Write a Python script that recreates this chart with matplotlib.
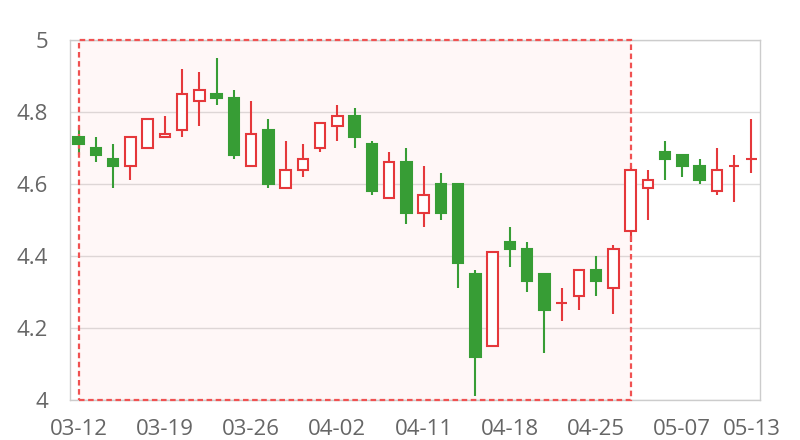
import matplotlib
matplotlib.use('Agg')
import matplotlib.pyplot as plt
from matplotlib.patches import Rectangle

plt.rcParams['font.family'] = ['Open Sans', 'DejaVu Sans']

# 日期与K线数据 (开, 收, 高, 低)
dates = ['03-12', '03-13', '03-14', '03-15', '03-16', '03-19', '03-20', '03-21', '03-22', '03-23',
         '03-26', '03-27', '03-28', '03-29', '03-30', '04-02', '04-03', '04-04', '04-09', '04-10',
         '04-11', '04-12', '04-13', '04-16', '04-17', '04-18', '04-19', '04-20', '04-23', '04-24',
         '04-25', '04-26', '04-27', '05-03', '05-04', '05-07', '05-08', '05-09', '05-10', '05-13']
opens = [4.73, 4.70, 4.67, 4.65, 4.70, 4.73, 4.75, 4.83, 4.85, 4.84,
         4.65, 4.75, 4.59, 4.64, 4.70, 4.76, 4.79, 4.71, 4.56, 4.66,
         4.52, 4.60, 4.60, 4.35, 4.15, 4.44, 4.42, 4.35, 4.27, 4.29,
         4.36, 4.31, 4.47, 4.59, 4.69, 4.68, 4.65, 4.58, 4.65, 4.67]
closes = [4.71, 4.68, 4.65, 4.73, 4.78, 4.74, 4.85, 4.86, 4.84, 4.68,
          4.74, 4.60, 4.64, 4.67, 4.77, 4.79, 4.73, 4.58, 4.66, 4.52,
          4.57, 4.52, 4.38, 4.12, 4.41, 4.42, 4.33, 4.25, 4.27, 4.36,
          4.33, 4.42, 4.64, 4.61, 4.67, 4.65, 4.61, 4.64, 4.65, 4.67]
highs = [4.76, 4.73, 4.71, 4.73, 4.78, 4.79, 4.92, 4.91, 4.95, 4.86,
         4.83, 4.78, 4.72, 4.71, 4.77, 4.82, 4.81, 4.72, 4.69, 4.70,
         4.65, 4.63, 4.60, 4.36, 4.41, 4.48, 4.44, 4.35, 4.31, 4.36,
         4.40, 4.43, 4.65, 4.64, 4.72, 4.68, 4.67, 4.70, 4.68, 4.78]
lows = [4.68, 4.66, 4.59, 4.61, 4.70, 4.73, 4.73, 4.76, 4.82, 4.67,
        4.65, 4.59, 4.59, 4.62, 4.69, 4.72, 4.70, 4.57, 4.56, 4.49,
        4.48, 4.50, 4.31, 4.01, 4.15, 4.37, 4.30, 4.13, 4.22, 4.25,
        4.29, 4.24, 4.44, 4.50, 4.61, 4.62, 4.60, 4.57, 4.55, 4.63]

tick_idx = [0, 5, 10, 15, 20, 25, 30, 35, 39]
area_start, area_end = '03-12', '04-27'

up_col = '#e5383b'
down_col = '#379d35'

fig = plt.figure(figsize=(8, 4.4), dpi=100)
ax = fig.add_axes([0.0875, 0.0909, 0.8625, 0.8182])

x = list(range(len(dates)))
cols = [up_col if c >= o else down_col for o, c in zip(opens, closes)]

# 标记区域 (半透明底色, 虚线边框)
i0, i1 = dates.index(area_start), dates.index(area_end)
ax.add_patch(Rectangle((i0, 4), i1 - i0, 1, facecolor=(1, 0, 0, 0.03), edgecolor='none', zorder=1.5))
ax.add_patch(Rectangle((i0, 4), i1 - i0, 1, facecolor='none', edgecolor='#f05252',
                       linestyle=(0, (2.5, 1.6)), linewidth=1.6, zorder=2.8, clip_on=False))

ax.vlines(x, lows, highs, colors=cols, linewidth=1.5, zorder=2)
bottoms = [min(o, c) for o, c in zip(opens, closes)]
heights = [abs(c - o) for o, c in zip(opens, closes)]
faces = ['white' if c >= o else down_col for o, c in zip(opens, closes)]
ax.bar(x, heights, bottom=bottoms, width=0.6, color=faces, edgecolor=cols,
       linewidth=1.5, zorder=3)

ax.set_xlim(-0.5, len(dates) - 0.5)
ax.set_ylim(4, 5)
ax.set_yticks([4, 4.2, 4.4, 4.6, 4.8, 5])
ax.set_yticklabels(['4', '4.2', '4.4', '4.6', '4.8', '5'])
ax.set_xticks(tick_idx)
ax.set_xticklabels([dates[i] for i in tick_idx])
ax.tick_params(length=0, labelsize=16, colors='#666666')
ax.tick_params(axis='y', pad=16)
ax.tick_params(axis='x', pad=14)
ax.grid(axis='y', color='#dddddd', linewidth=1, zorder=0)
ax.set_axisbelow(True)
for s in ax.spines.values():
    s.set_color('#cccccc')
    s.set_linewidth(1)

fig.savefig('out.png', dpi=100)
